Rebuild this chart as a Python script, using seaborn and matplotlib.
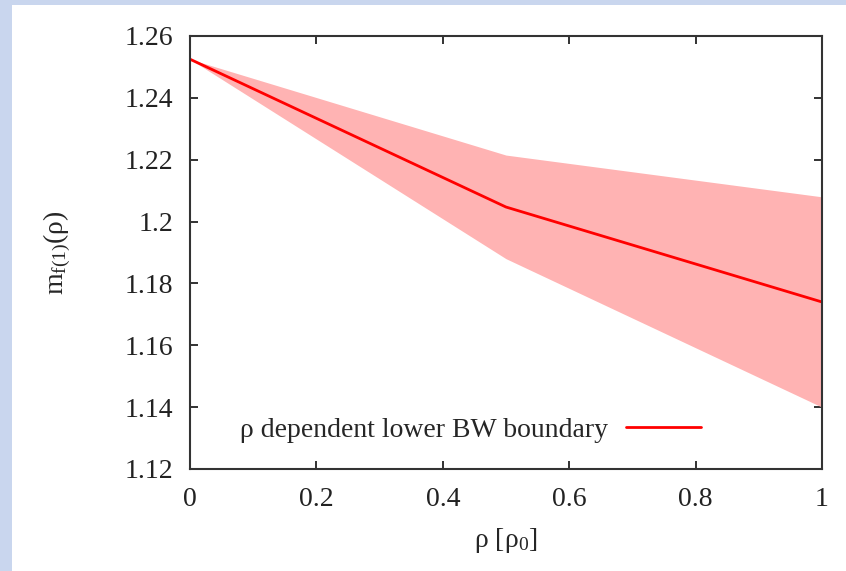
import matplotlib
matplotlib.use("Agg")
import matplotlib.pyplot as plt
import seaborn as sns
import pandas as pd
from matplotlib.patches import Rectangle

rho = [0.0, 0.5, 1.0]
m_center = [1.2525, 1.2047, 1.1740]
m_upper = [1.2525, 1.2215, 1.2080]
m_lower = [1.2525, 1.1880, 1.1400]
x_ticks = [0, 0.2, 0.4, 0.6, 0.8, 1]
x_tick_labels = ["0", "0.2", "0.4", "0.6", "0.8", "1"]
y_ticks = [1.12, 1.14, 1.16, 1.18, 1.2, 1.22, 1.24, 1.26]
y_tick_labels = ["1.12", "1.14", "1.16", "1.18", "1.2", "1.22", "1.24", "1.26"]
legend_label = "ρ dependent lower BW boundary"

sns.set_style("ticks")
plt.rcParams['font.family'] = ['Liberation Serif', 'DejaVu Serif']
plt.rcParams['mathtext.fontset'] = 'custom'
plt.rcParams['mathtext.rm'] = 'Liberation Serif'
plt.rcParams['mathtext.it'] = 'Liberation Serif'

fig = plt.figure(figsize=(8.46, 5.71), dpi=100)
fig.patch.set_facecolor('#c9d6ee')
fig.patches.append(Rectangle((12/846, 0), 1 - 12/846, 1 - 5/571, transform=fig.transFigure,
                             facecolor='white', edgecolor='none', zorder=-10))
ax = fig.add_axes([190/846, 1 - 469/571, (822 - 190)/846, (469 - 36)/571])
ax.set_zorder(5)
ax.set_facecolor('white')

df = pd.DataFrame({"rho": rho, "m": m_center})
ax.fill_between(rho, m_lower, m_upper, color='#ffb3b3', linewidth=0, zorder=1)
sns.lineplot(data=df, x="rho", y="m", ax=ax, color='#ff0000', linewidth=2,
             label=legend_label, zorder=2)

ax.set_xlim(0, 1)
ax.set_ylim(1.12, 1.26)
ax.set_xticks(x_ticks)
ax.set_xticklabels(x_tick_labels)
ax.set_yticks(y_ticks)
ax.set_yticklabels(y_tick_labels)
ax.tick_params(direction='in', top=True, right=True, length=6, width=1.3,
               labelsize=20, colors='#222222')
ax.tick_params(axis='x', pad=13)
ax.tick_params(axis='y', pad=12)
for s in ax.spines.values():
    s.set_linewidth(1.5)
    s.set_color('#333333')
    s.set_visible(True)

ax.set_xlabel("ρ [ρ$_0$]", fontsize=20, labelpad=10)
ax.set_ylabel("m$_{f(1)}$(ρ)", fontsize=20, labelpad=37)

leg = ax.legend(loc='lower left', bbox_to_anchor=(0.04, 0.003), frameon=False,
                markerfirst=False, fontsize=20, handlelength=2.7, handletextpad=0.65)

fig.savefig("out.png", dpi=100, facecolor=fig.get_facecolor())
